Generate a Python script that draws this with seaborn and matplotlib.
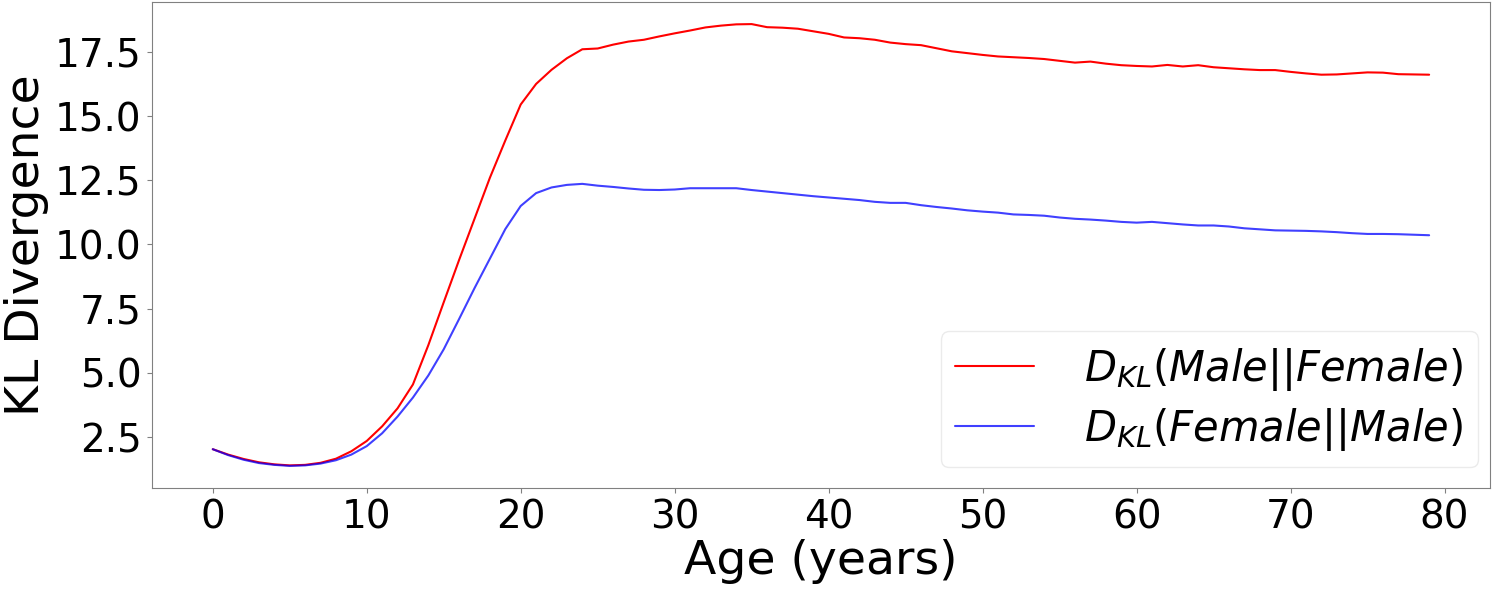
import numpy as np
import pandas as pd
import seaborn as sns
import matplotlib
matplotlib.use("Agg")
import matplotlib.pyplot as plt

# ages 0..79
ages = list(range(80))

# D_KL(Male || Female)
kl_male_female = [
    2.03, 1.82, 1.65, 1.52, 1.44, 1.40, 1.42, 1.50, 1.66, 1.95,
    2.35, 2.92, 3.62, 4.55, 6.08, 7.75, 9.40, 11.00, 12.60, 14.05,
    15.45, 16.25, 16.80, 17.25, 17.60, 17.63, 17.78, 17.90, 17.97, 18.10,
    18.22, 18.33, 18.45, 18.52, 18.57, 18.58, 18.46, 18.44, 18.40, 18.30,
    18.20, 18.06, 18.03, 17.97, 17.86, 17.80, 17.76, 17.64, 17.52, 17.45,
    17.38, 17.32, 17.29, 17.26, 17.22, 17.15, 17.08, 17.12, 17.04, 16.98,
    16.95, 16.93, 16.99, 16.93, 16.98, 16.90, 16.86, 16.82, 16.79, 16.79,
    16.72, 16.66, 16.61, 16.62, 16.66, 16.70, 16.69, 16.63, 16.62, 16.61,
]

# D_KL(Female || Male)
kl_female_male = [
    2.03, 1.80, 1.62, 1.49, 1.42, 1.38, 1.40, 1.47, 1.60, 1.82,
    2.15, 2.65, 3.30, 4.04, 4.90, 5.92, 7.10, 8.30, 9.45, 10.60,
    11.50, 12.00, 12.22, 12.32, 12.36, 12.29, 12.24, 12.18, 12.13, 12.12,
    12.14, 12.19, 12.19, 12.19, 12.19, 12.12, 12.06, 12.00, 11.94, 11.88,
    11.83, 11.78, 11.73, 11.66, 11.62, 11.62, 11.53, 11.46, 11.40, 11.33,
    11.28, 11.24, 11.17, 11.15, 11.12, 11.05, 11.00, 10.97, 10.93, 10.88,
    10.85, 10.88, 10.83, 10.78, 10.74, 10.74, 10.70, 10.63, 10.59, 10.55,
    10.54, 10.53, 10.51, 10.48, 10.44, 10.41, 10.41, 10.40, 10.38, 10.36,
]

y_ticks = [2.5, 5.0, 7.5, 10.0, 12.5, 15.0, 17.5]
x_ticks = [0, 10, 20, 30, 40, 50, 60, 70, 80]

label_mf = r'$D_{KL}(Male||Female)$'
label_fm = r'$D_{KL}(Female||Male)$'

df = pd.DataFrame({
    'age': ages * 2,
    'kl': kl_male_female + kl_female_male,
    'pair': [label_mf] * len(ages) + [label_fm] * len(ages),
})

sns.set_style("white", {'axes.edgecolor': '0.5', 'text.color': 'black',
                        'axes.labelcolor': 'black', 'xtick.color': 'black',
                        'ytick.color': 'black'})
plt.rcParams['font.family'] = ['DejaVu Sans']

fig, ax = plt.subplots(figsize=(15, 5.89), dpi=100)
fig.subplots_adjust(left=0.1013, right=0.9933, top=0.9966, bottom=0.1715)

sns.lineplot(data=df, x='age', y='kl', hue='pair',
             palette={label_mf: 'red', label_fm: (0.0, 0.0, 1.0, 0.75)},
             linewidth=1.5, ax=ax)

ax.set_xlabel('Age (years)', fontsize=34, labelpad=2)
ax.set_ylabel('KL Divergence', fontsize=34, labelpad=4)
ax.set_xticks(x_ticks)
ax.set_yticks(y_ticks)
ax.tick_params(axis='both', labelsize=28, length=3.5, color='0.5',
               left=True, bottom=True, pad=4)

leg = ax.legend(loc='lower right', fontsize=30, frameon=True, fancybox=True,
                handlelength=1.9, handletextpad=1.2, labelspacing=0.3,
                borderpad=0.35, borderaxespad=0,
                bbox_to_anchor=(0.991, 0.043))
leg.get_frame().set_edgecolor('0.9')

fig.savefig('out.png', dpi=100)
